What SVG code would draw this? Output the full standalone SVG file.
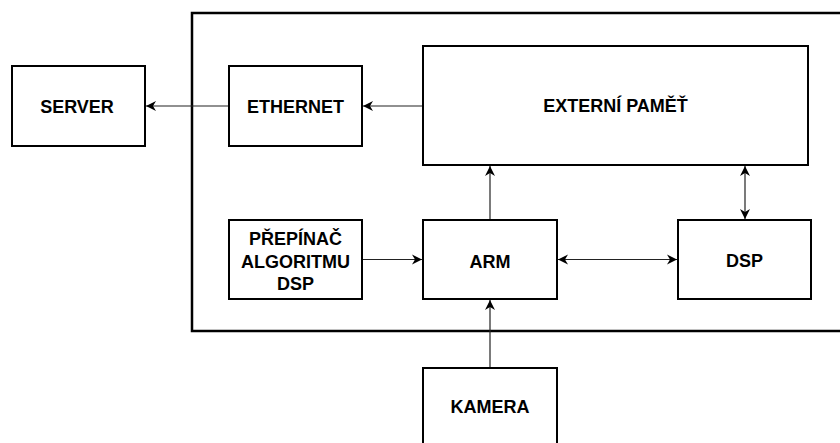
<svg xmlns="http://www.w3.org/2000/svg" width="840" height="443" viewBox="0 0 840 443">
<style>
.box{fill:#fff;stroke:#000;stroke-width:2}
.outer{fill:none;stroke:#000;stroke-width:2.5}
.lbl{font-family:"Liberation Sans",Arial,sans-serif;font-weight:bold;font-size:18px;text-anchor:middle;fill:#000}
.con{fill:none;stroke:#222;stroke-width:1.2}
</style>
<defs>
<marker id="ah" markerUnits="userSpaceOnUse" markerWidth="12" markerHeight="12" viewBox="0 0 12 12" refX="10" refY="6" orient="auto-start-reverse">
<path d="M0,1 L10,6 L0,11 L3,6 Z" fill="#000"/>
</marker>
</defs>
<rect class="outer" x="192" y="13" width="660" height="318"/>
<g id="connectors">
<line class="con" x1="229" y1="106" x2="146" y2="106" marker-end="url(#ah)"/>
<line class="con" x1="423" y1="106" x2="363" y2="106" marker-end="url(#ah)"/>
<line class="con" x1="490" y1="220" x2="490" y2="166" marker-end="url(#ah)"/>
<line class="con" x1="745" y1="166" x2="745" y2="219" marker-start="url(#ah)" marker-end="url(#ah)"/>
<line class="con" x1="558" y1="259.5" x2="677" y2="259.5" marker-start="url(#ah)" marker-end="url(#ah)"/>
<line class="con" x1="363" y1="259.5" x2="422" y2="259.5" marker-end="url(#ah)"/>
<line class="con" x1="490" y1="368" x2="490" y2="300" marker-end="url(#ah)"/>
</g>
<g id="server"><rect class="box" x="12" y="66" width="133" height="80"/><text class="lbl" x="77" y="113">SERVER</text></g>
<g id="ethernet"><rect class="box" x="229" y="66" width="133" height="80"/><text class="lbl" x="295.5" y="113">ETHERNET</text></g>
<g id="externi-pamet"><rect class="box" x="423" y="46" width="385" height="119"/><text class="lbl" x="615.5" y="112">EXTERNÍ PAMĚŤ</text></g>
<g id="prepinac"><rect class="box" x="229" y="220" width="133" height="79"/><text class="lbl" x="295.5" y="244.5">PŘEPÍNAČ</text><text class="lbl" x="295.5" y="267.5">ALGORITMU</text><text class="lbl" x="295.5" y="290">DSP</text></g>
<g id="arm"><rect class="box" x="423" y="220" width="134" height="79"/><text class="lbl" x="490" y="268">ARM</text></g>
<g id="dsp"><rect class="box" x="678" y="220" width="133" height="79"/><text class="lbl" x="744.5" y="266.5">DSP</text></g>
<g id="kamera"><rect class="box" x="423" y="368" width="134" height="90"/><text class="lbl" x="490" y="412.5">KAMERA</text></g>
</svg>
